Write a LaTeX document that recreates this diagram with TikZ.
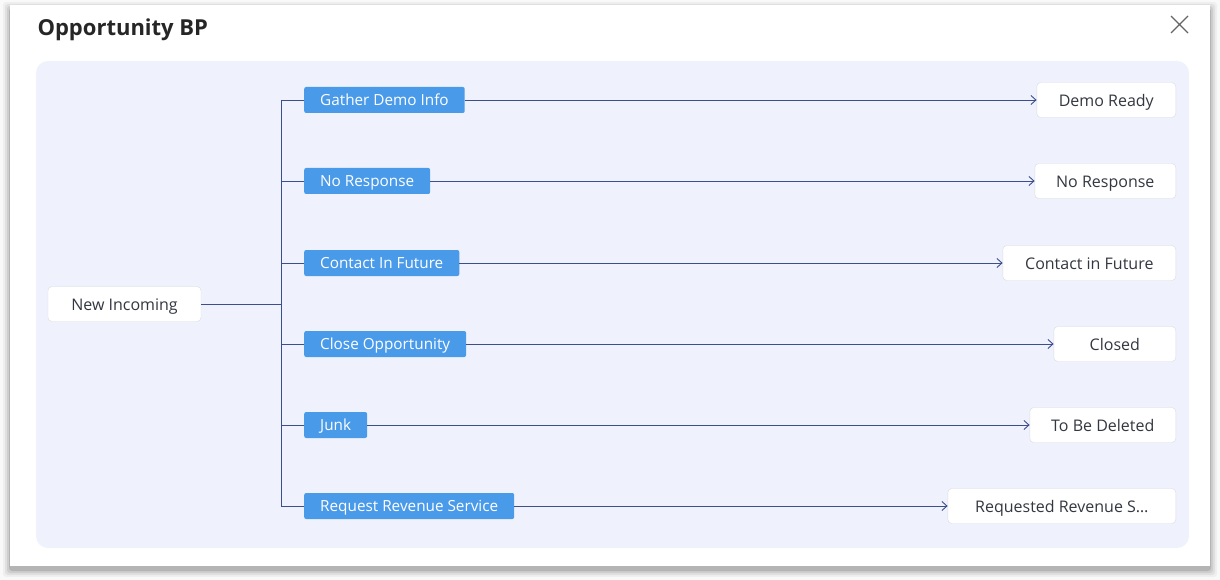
\documentclass[tikz,border=0pt]{standalone}
\usepackage{fontspec}
\setmainfont{Open Sans}
\usetikzlibrary{arrows.meta,positioning}

\definecolor{panelbg}{RGB}{239,242,253}
\definecolor{stepblue}{RGB}{74,154,234}
\definecolor{linkblue}{RGB}{60,78,140}
\definecolor{boxline}{RGB}{216,220,228}
\definecolor{labeltext}{RGB}{51,55,64}

\begin{document}
\begin{tikzpicture}[x=1pt,y=-1pt,
  every node/.style={font=\fontsize{16}{19}\selectfont},
  state/.style={draw=boxline,fill=white,rounded corners=4pt,minimum height=35pt,text=labeltext,inner xsep=0pt,text height=12.5pt,text depth=0pt},
  trans/.style={fill=stepblue,rounded corners=2pt,minimum height=26pt,inner xsep=16pt,text=white,font=\fontsize{15.3}{18}\selectfont,text height=11pt,text depth=0pt},
  link/.style={draw=linkblue,line width=0.9pt}]

\useasboundingbox (0,0) rectangle (1220,580);
\fill[gray!5] (0,0) rectangle (1220,580);
% card with its shadow
\foreach \s/\o in {7/0.04,5/0.06,3/0.08,1/0.12}
  \fill[black,opacity=\o,rounded corners=3pt] (10-\s,5-\s+4) rectangle (1210+\s,566+\s+4);
\fill[white] (10,5) rectangle (1210,566);

\node[anchor=base west,font=\fontsize{22}{26}\selectfont\bfseries,text=black!85] (title) at (34,36) {Opportunity BP};
\draw[gray!80!black,line width=1.3pt] (1171,16) -- (1188,33) (1188,16) -- (1171,33);

\fill[panelbg,rounded corners=12pt] (36,61) rectangle (1189,548);

\node[state,minimum width=153pt] (new) at (124.5,304) {New Incoming};
\coordinate (fork) at (281,304);
\draw[link] (new.east) -- (fork);

\foreach \n/\lab/\tgt/\y/\w in {1/Gather Demo Info/Demo Ready/100/139,
    2/No Response/No Response/181/141,
    3/Contact In Future/Contact in Future/263/173,
    4/Close Opportunity/Closed/344/122,
    5/Junk/To Be Deleted/425/146,
    6/Request Revenue Service/{Requested Revenue S\ldots}/506/228}{
  \node[trans,anchor=west] (t\n) at (304,\y) {\lab};
  \node[state,anchor=east,minimum width=\w pt] (s\n) at (1176,\y) {\tgt};
  \draw[link] (fork |- t\n.west) -- (t\n.west);
  \draw[link,-{Straight Barb[length=5pt,width=9pt]}] (t\n.east) -- (s\n.west);
}
\draw[link] (fork |- t1.west) -- (fork |- t6.west);

\end{tikzpicture}
\end{document}
